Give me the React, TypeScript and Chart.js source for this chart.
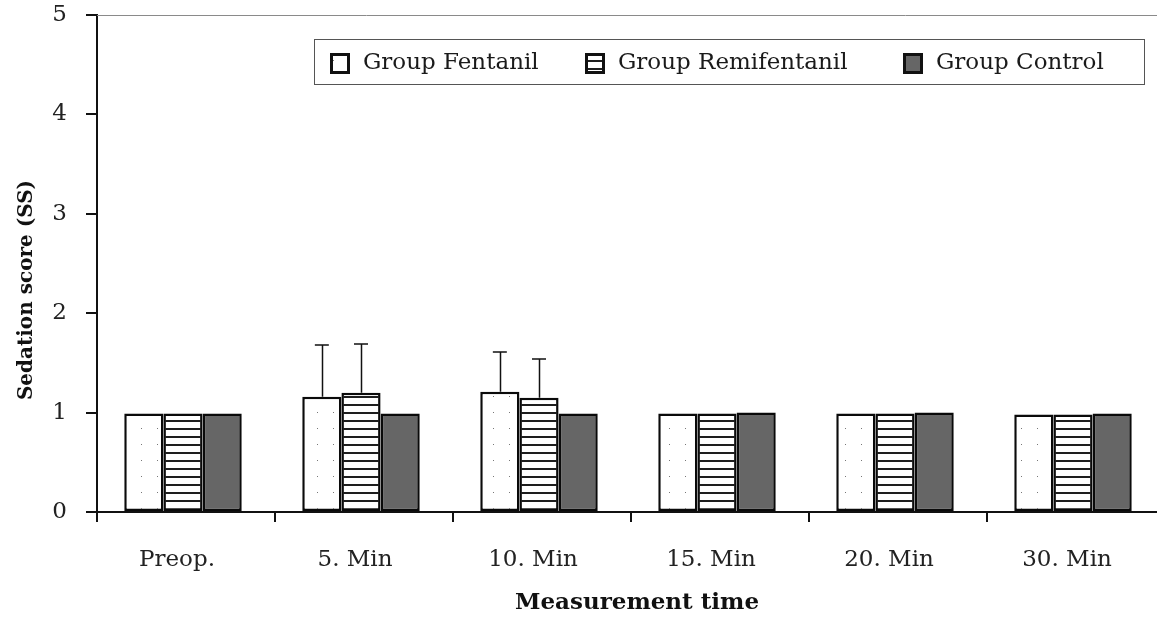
import React, { useEffect, useRef } from 'react';
import { Chart, registerables } from 'chart.js';

Chart.register(...registerables);

const categories = ['Preop.', '5. Min', '10. Min', '15. Min', '20. Min', '30. Min'];
const fentanil = [0.99, 1.16, 1.21, 0.99, 0.99, 0.98];
const remifentanil = [0.99, 1.2, 1.15, 0.99, 0.99, 0.98];
const control = [0.99, 0.99, 0.99, 1.0, 1.0, 0.99];
const fentanilSD = [null, 0.52, 0.4, null, null, null];
const remifentanilSD = [null, 0.49, 0.39, null, null, null];
const seriesLabels = ['Group Fentanil', 'Group Remifentanil', 'Group Control'];
const yTicks = [0, 1, 2, 3, 4, 5];
const yTitle = 'Sedation score (SS)';
const xTitle = 'Measurement time';

const FONT = "'DejaVu Serif', 'Liberation Serif', serif";

export default function App() {
  const ref = useRef<HTMLCanvasElement>(null);

  useEffect(() => {
    const canvas = ref.current!;
    const ctx = canvas.getContext('2d')!;

    const dots = document.createElement('canvas');
    dots.width = 16;
    dots.height = 16;
    const d = dots.getContext('2d')!;
    d.fillStyle = '#ffffff';
    d.fillRect(0, 0, 16, 16);
    d.fillStyle = '#777777';
    d.fillRect(13, 12, 1, 1);
    const dotPattern = ctx.createPattern(dots, 'repeat')!;

    const lines = document.createElement('canvas');
    lines.width = 8;
    lines.height = 8;
    const l = lines.getContext('2d')!;
    l.fillStyle = '#ffffff';
    l.fillRect(0, 0, 8, 8);
    l.fillStyle = '#1e1e1e';
    l.fillRect(0, 4, 8, 2);
    const linePattern = ctx.createPattern(lines, 'repeat')!;

    const shiftBars = {
      id: 'shiftBars',
      afterDatasetsUpdate(chart: any) {
        chart.data.datasets.forEach((_ds: any, di: number) => {
          chart.getDatasetMeta(di).data.forEach((el: any) => {
            el.x -= 3;
          });
        });
      },
    };

    const errorBars = {
      id: 'errorBars',
      afterDatasetsDraw(chart: any) {
        const c = chart.ctx;
        const yScale = chart.scales.y;
        c.save();
        c.strokeStyle = '#111';
        c.lineWidth = 1.5;
        chart.data.datasets.forEach((ds: any, di: number) => {
          if (!ds.errors) return;
          const meta = chart.getDatasetMeta(di);
          ds.errors.forEach((e: number | null, i: number) => {
            if (e == null) return;
            const bar = meta.data[i];
            const v = ds.data[i];
            const yTop = yScale.getPixelForValue(v + e);
            const yBar = yScale.getPixelForValue(v);
            c.beginPath();
            c.moveTo(Math.round(bar.x) + 0.5, yBar);
            c.lineTo(Math.round(bar.x) + 0.5, yTop);
            c.moveTo(bar.x - 7, yTop);
            c.lineTo(bar.x + 7, yTop);
            c.stroke();
          });
        });
        c.restore();
      },
    };

    const frame = {
      id: 'frame',
      afterDraw(chart: any) {
        const c = chart.ctx;
        const a = chart.chartArea;
        c.save();
        c.strokeStyle = '#8a8a8a';
        c.lineWidth = 1;
        c.beginPath();
        c.moveTo(a.left, a.top + 0.5);
        c.lineTo(chart.width, a.top + 0.5);
        c.stroke();

        // y axis title
        c.save();
        c.translate(27, 290);
        c.rotate(-Math.PI / 2);
        c.fillStyle = '#111';
        c.font = `bold 20px ${FONT}`;
        c.textAlign = 'center';
        c.textBaseline = 'middle';
        c.fillText(yTitle, 0, 0);
        c.restore();

        // x axis title
        c.fillStyle = '#111';
        c.font = `bold 23px ${FONT}`;
        c.textAlign = 'center';
        c.textBaseline = 'alphabetic';
        c.fillText(xTitle, 637, 609);

        // legend box
        c.fillStyle = '#ffffff';
        c.fillRect(314, 39, 830, 45);
        c.strokeStyle = '#555';
        c.lineWidth = 1;
        c.strokeRect(314.5, 39.5, 830, 45);
        const xs = [330, 585, 903];
        chart.data.datasets.forEach((ds: any, i: number) => {
          const x = xs[i];
          c.fillStyle = ds.backgroundColor;
          c.fillRect(x, 53, 20, 21);
          c.strokeStyle = '#111';
          c.lineWidth = 3;
          c.strokeRect(x + 1.5, 54.5, 17, 18);
          c.fillStyle = '#1a1a1a';
          c.font = `23px ${FONT}`;
          c.textBaseline = 'middle';
          c.textAlign = 'left';
          c.fillText(ds.label, x + 33, 63);
        });
        c.restore();
      },
    };

    const common = {
      borderColor: '#0a0a0a',
      borderWidth: 2.5,
      borderSkipped: false,
      categoryPercentage: 0.66,
      barPercentage: 1,
    };

    const chart = new Chart(canvas, {
      type: 'bar',
      data: {
        labels: categories,
        datasets: [
          { ...common, label: seriesLabels[0], data: fentanil, backgroundColor: dotPattern, errors: fentanilSD } as any,
          { ...common, label: seriesLabels[1], data: remifentanil, backgroundColor: linePattern, errors: remifentanilSD } as any,
          { ...common, label: seriesLabels[2], data: control, backgroundColor: '#666666' } as any,
        ],
      },
      options: {
        animation: false,
        responsive: false,
        devicePixelRatio: 1,
        layout: { padding: { top: 15, right: 10, left: 0, bottom: 0 } },
        plugins: { legend: { display: false }, tooltip: { enabled: false } },
        scales: {
          x: {
            grid: { offset: true, drawOnChartArea: false, drawTicks: true, tickLength: 10, color: '#111', lineWidth: 2 },
            border: { display: true, color: '#111', width: 2 },
            ticks: { font: { family: FONT, size: 23 }, color: '#222', padding: 24, maxRotation: 0, labelOffset: -9 },
            title: { display: false },
            afterFit: (s: any) => {
              s.height = 107;
              s.paddingLeft = 0;
              s.paddingRight = 0;
            },
          },
          y: {
            min: 0,
            max: 5,
            afterBuildTicks: (s: any) => {
              s.ticks = yTicks.map((v) => ({ value: v }));
            },
            ticks: { font: { family: FONT, size: 23 }, color: '#222', padding: 19 },
            grid: { drawOnChartArea: false, drawTicks: true, tickLength: 11, color: '#111', lineWidth: 2 },
            border: { display: true, color: '#111', width: 2 },
            title: { display: false },
            afterFit: (s: any) => {
              s.width = 97;
              s.paddingTop = 0;
              s.paddingBottom = 0;
            },
          },
        },
      } as any,
      plugins: [shiftBars, errorBars, frame],
    });
    return () => chart.destroy();
  }, []);

  return (
    <div style={{ position: 'fixed', left: 0, top: 0, width: 1157, height: 619, overflow: 'hidden', background: '#fff' }}>
      <canvas ref={ref} width={1175} height={619} style={{ display: 'block', width: 1175, height: 619 }} />
    </div>
  );
}
